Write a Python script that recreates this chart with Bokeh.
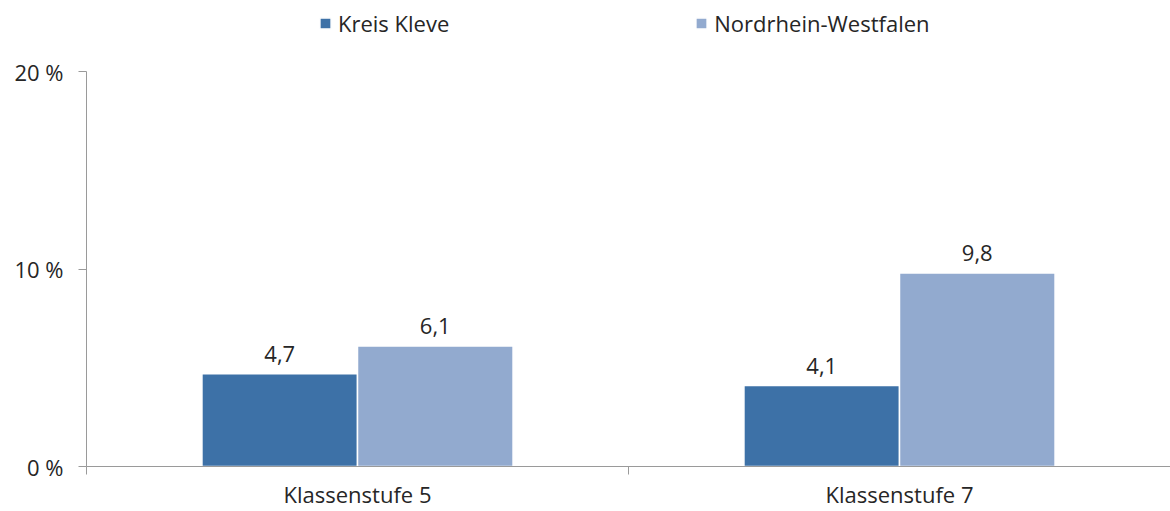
from bokeh.plotting import figure
from bokeh.models import (ColumnDataSource, Range1d, FixedTicker, LinearAxis,
                          Legend, LegendItem, LabelSet)
from bokeh.transform import dodge
from bokeh.core.properties import value
from bokeh.embed import file_html
from bokeh.resources import INLINE

categories = ["Klassenstufe 5", "Klassenstufe 7"]
series_names = ["Kreis Kleve", "Nordrhein-Westfalen"]
kreis_kleve = [4.7, 4.1]
nordrhein_westfalen = [6.1, 9.8]
y_ticks = [0, 10, 20]
y_tick_labels = ["0 %", "10 %", "20 %"]

FONT = "Open Sans"
FS = "22px"
TEXT = "#262626"
AXIS = "#9a9a9a"
C1 = "#3d71a7"
C2 = "#92aacf"


def fmt(v):
    return f"{v:.1f}".replace(".", ",")


# each category occupies one unit on the x scale; centre at i + 0.5
x_centres = [i + 0.5 for i in range(len(categories))]
x_bounds = [float(i) for i in range(len(categories) + 1)]

src = ColumnDataSource(dict(
    x=x_centres,
    kk=kreis_kleve,
    nrw=nordrhein_westfalen,
    kk_t=[fmt(v) for v in kreis_kleve],
    nrw_t=[fmt(v) for v in nordrhein_westfalen],
))

# frame extends above the 20 % line to leave room for the legend inside it
TOP_BORDER = 5
y_axis_max = y_ticks[-1]
y_view_max = y_axis_max * (465 - TOP_BORDER) / (465 - 71)

p = figure(x_range=Range1d(0, len(categories)),
           y_range=Range1d(0, y_view_max),
           width=1170, height=511,
           output_backend="svg", toolbar_location=None,
           x_axis_location=None, y_axis_location=None,
           min_border_left=86, min_border_right=0, min_border_top=TOP_BORDER, min_border_bottom=0)
p.grid.grid_line_color = None
p.outline_line_color = None
p.background_fill_color = "white"
p.border_fill_color = "white"

yaxis = LinearAxis(ticker=FixedTicker(ticks=y_ticks), bounds=(0, y_axis_max),
                   major_label_overrides={t: l for t, l in zip(y_ticks, y_tick_labels)},
                   axis_line_color=AXIS, major_tick_line_color=AXIS,
                   major_tick_in=0, major_tick_out=8, minor_tick_line_color=None,
                   major_label_standoff=15,
                   major_label_text_font=FONT, major_label_text_font_size=FS,
                   major_label_text_color=TEXT)
p.add_layout(yaxis, "left")

xaxis = LinearAxis(ticker=FixedTicker(ticks=x_centres, minor_ticks=x_bounds),
                   major_label_overrides={c: l for c, l in zip(x_centres, categories)},
                   axis_line_color=AXIS, major_tick_line_color=None,
                   major_tick_in=0, major_tick_out=0,
                   minor_tick_line_color=AXIS, minor_tick_in=0, minor_tick_out=8,
                   major_label_standoff=4,
                   major_label_text_font=FONT, major_label_text_font_size=FS,
                   major_label_text_color=TEXT)
p.add_layout(xaxis, "below")

r1 = p.vbar(x=dodge("x", -0.1435), top="kk", width=0.287, source=src,
            fill_color=C1, line_color="white", line_width=1.5)
r2 = p.vbar(x=dodge("x", 0.1435), top="nrw", width=0.287, source=src,
            fill_color=C2, line_color="white", line_width=1.5)

for col, off in (("kk", -0.1435), ("nrw", 0.1435)):
    p.add_layout(LabelSet(x=dodge("x", off), y=col, text=col + "_t",
                          source=src, y_offset=12, text_align="center", text_baseline="bottom",
                          text_font=value(FONT), text_font_size=FS, text_color=TEXT))

legend = Legend(items=[LegendItem(label=series_names[0], renderers=[r1]),
                       LegendItem(label=series_names[1], renderers=[r2])],
                orientation="horizontal", location=(232, 428),
                border_line_color=None, background_fill_alpha=0,
                label_text_font=FONT, label_text_font_size=FS, label_text_color=TEXT,
                glyph_width=14, glyph_height=14, label_standoff=6, spacing=245,
                padding=0, margin=0)
p.add_layout(legend, "center")

open("out.html", "w").write(file_html(p, INLINE))
